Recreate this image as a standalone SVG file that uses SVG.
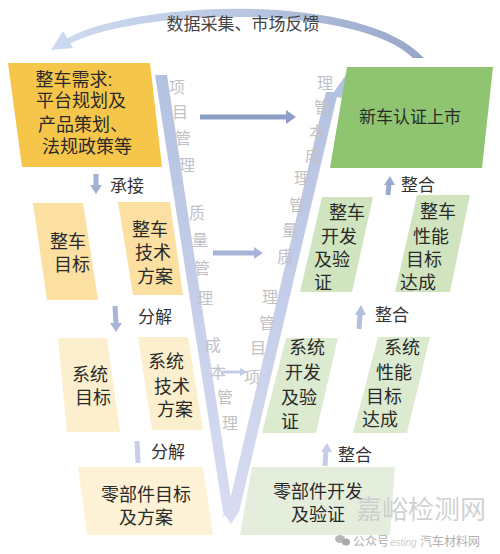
<svg xmlns="http://www.w3.org/2000/svg" width="500" height="554" viewBox="0 0 500 554">
<defs>
<linearGradient id="arcG" x1="0" y1="0" x2="1" y2="0">
<stop offset="0" stop-color="#cddbef"/>
<stop offset="0.5" stop-color="#b9c6e2"/>
<stop offset="1" stop-color="#97a5c8"/>
</linearGradient>
<linearGradient id="vG" x1="0" y1="0" x2="0" y2="1">
<stop offset="0" stop-color="#b3c1e1"/>
<stop offset="1" stop-color="#d8dcf1"/>
</linearGradient>
<style>
text{font-family:"Liberation Sans","Noto Sans CJK SC",sans-serif;}
.t{font-size:18px;fill:#2a2a2a;text-anchor:middle;}
.lb{font-size:17px;fill:#333;}
.v{font-size:16px;fill:#c2c2c6;text-anchor:middle;}
.y1{fill:#f6c64b;}
.y2{fill:#fbe0a2;}
.y3{fill:#fcefcd;}
.y4{fill:#fdf2d6;}
.g1{fill:#8fc570;}
.g2{fill:#d0e5bf;}
.g3{fill:#dcebd0;}
.g4{fill:#e5eedd;}
.wm{font-size:12px;fill:#b0b0b0;}
</style>
</defs>
<rect width="500" height="554" fill="#ffffff"/>

<g id="connectors">
<path d="M66,39 C130,1 362,-10 424,58 L413,58 C356,2 130,9 68,45 Z" fill="url(#arcG)"/>
<polygon points="51,50 63,31 73,48" fill="#cbd9ee"/>
<polygon points="155,75 167,75 233,512 223,512" fill="url(#vG)"/>
<polygon points="222,517 233,512 239,512 338,92 326,92 230,500" fill="url(#vG)"/>
<polygon points="348,72 331,96 349,99" fill="#b3c1e1"/>
<polygon points="223,512 239,512 231,524" fill="#d8dcf1"/>
<line x1="200" y1="117" x2="288" y2="117" stroke="#8e9fc7" stroke-width="5"/>
<polygon points="296,117 286,110 286,124" fill="#8e9fc7"/>
<line x1="213" y1="253" x2="255" y2="253" stroke="#a7b5d8" stroke-width="5"/>
<polygon points="263,253 254,247 254,259" fill="#a7b5d8"/>
<line x1="222" y1="372" x2="240" y2="372" stroke="#c5cde6" stroke-width="3"/>
<polygon points="247,372 240,368 240,376" fill="#c5cde6"/>
<line x1="96" y1="174" x2="96" y2="186" stroke="#a2b1d3" stroke-width="5"/>
<polygon points="96,194 90,185 102,185" fill="#a2b1d3"/>
<line x1="115" y1="306" x2="116" y2="324" stroke="#a7b5d8" stroke-width="5"/>
<polygon points="116,332 110,323 122,323" fill="#a7b5d8"/>
<line x1="137" y1="441" x2="138" y2="463" stroke="#c9cfe6" stroke-width="5"/>
<line x1="388" y1="195" x2="389" y2="184" stroke="#9aaad0" stroke-width="5"/>
<polygon points="390,176 384,185 395,185" fill="#9aaad0"/>
<line x1="359" y1="329" x2="360" y2="314" stroke="#b3bedf" stroke-width="5"/>
<polygon points="361,305 355,315 366,315" fill="#b3bedf"/>
<line x1="325" y1="466" x2="326" y2="450" stroke="#c8cde6" stroke-width="5"/>
<polygon points="327,443 321,452 332,452" fill="#c8cde6"/>
</g>

<text x="243" y="30" class="lb" text-anchor="middle" style="fill:#444">数据采集、市场反馈</text>

<g id="n-demand">
<polygon class="y1" points="8,63 150,63 162,167 22,167"/>
<text class="t"><tspan x="74" y="86">整车需求:</tspan><tspan x="81" y="107">平台规划及</tspan><tspan x="83" y="131">产品策划、</tspan><tspan x="87" y="153">法规政策等</tspan></text>
</g>

<g id="n-launch">
<polygon class="g1" points="347,67 493,67 482,168 330,168"/>
<text class="t" x="410" y="123" style="font-size:17px">新车认证上市</text>
</g>

<g id="n-vehicle-target">
<polygon class="y2" points="33,203 83,203 98,300 47,300"/>
<text class="t"><tspan x="68" y="248">整车</tspan><tspan x="72" y="271">目标</tspan></text>
</g>

<g id="n-vehicle-tech">
<polygon class="y2" points="118,202 170,202 183,295 133,295"/>
<text class="t"><tspan x="150" y="236">整车</tspan><tspan x="153" y="259">技术</tspan><tspan x="155" y="283">方案</tspan></text>
</g>

<g id="n-sys-target">
<polygon class="y3" points="58,338 107,338 120,432 67,432"/>
<text class="t"><tspan x="90" y="381">系统</tspan><tspan x="93" y="404">目标</tspan></text>
</g>

<g id="n-sys-tech">
<polygon class="y3" points="138,337 188,337 203,430 152,430"/>
<text class="t"><tspan x="166" y="368">系统</tspan><tspan x="172" y="393">技术</tspan><tspan x="175" y="416">方案</tspan></text>
</g>

<g id="n-part-target">
<polygon class="y4" points="78,467 203,467 213,535 87,535"/>
<text class="t"><tspan x="146" y="501">零部件目标</tspan><tspan x="146" y="524">及方案</tspan></text>
</g>

<g id="n-vehicle-dev">
<polygon class="g2" points="322,197 373,197 352,292 300,292"/>
<text class="t"><tspan x="347" y="219">整车</tspan><tspan x="339" y="243">开发</tspan><tspan x="332" y="266">及验</tspan><tspan x="323" y="289">证</tspan></text>
</g>

<g id="n-vehicle-perf">
<polygon class="g2" points="417,195 470,195 450,292 395,292"/>
<text class="t"><tspan x="438" y="218">整车</tspan><tspan x="431" y="243">性能</tspan><tspan x="424" y="266">目标</tspan><tspan x="418" y="289">达成</tspan></text>
</g>

<g id="n-sys-dev">
<polygon class="g3" points="286,338 338,338 316,433 262,433"/>
<text class="t"><tspan x="307" y="354">系统</tspan><tspan x="303" y="379">开发</tspan><tspan x="299" y="404">及验</tspan><tspan x="290" y="428">证</tspan></text>
</g>

<g id="n-sys-perf">
<polygon class="g3" points="378,337 430,337 407,433 353,433"/>
<text class="t"><tspan x="402" y="354">系统</tspan><tspan x="394" y="379">性能</tspan><tspan x="384" y="403">目标</tspan><tspan x="380" y="426">达成</tspan></text>
</g>

<g id="n-part-dev">
<polygon class="g4" points="252,467 395,467 390,535 240,535"/>
<text class="t"><tspan x="318" y="498">零部件开发</tspan><tspan x="318" y="521">及验证</tspan></text>
</g>

<g id="labels">
<text class="lb" x="110" y="192">承接</text>
<text class="lb" x="138" y="323">分解</text>
<text class="lb" x="151" y="458">分解</text>
<text class="lb" x="401" y="191">整合</text>
<text class="lb" x="375" y="321">整合</text>
<text class="lb" x="338" y="461">整合</text>
</g>

<g id="v-labels">
<text class="v"><tspan x="177" y="93">项</tspan><tspan x="180" y="118">目</tspan><tspan x="183" y="144">管</tspan><tspan x="187" y="171">理</tspan></text>
<text class="v"><tspan x="197" y="219">质</tspan><tspan x="200" y="246">量</tspan><tspan x="202" y="274">管</tspan><tspan x="205" y="304">理</tspan></text>
<text class="v"><tspan x="213" y="351">成</tspan><tspan x="218" y="378">本</tspan><tspan x="225" y="403">管</tspan><tspan x="230" y="429">理</tspan></text>
<text class="v"><tspan x="325" y="89">理</tspan><tspan x="322" y="113">管</tspan><tspan x="317" y="138">本</tspan><tspan x="313" y="161">成</tspan></text>
<text class="v"><tspan x="302" y="184">理</tspan><tspan x="297" y="211">管</tspan><tspan x="290" y="236">量</tspan><tspan x="285" y="263">质</tspan></text>
<text class="v"><tspan x="270" y="303">理</tspan><tspan x="267" y="329">管</tspan><tspan x="258" y="354">目</tspan><tspan x="252" y="383">项</tspan></text>
</g>

<g id="watermark">
<text x="421" y="519" text-anchor="middle" style="font-size:26px;fill:#c9c9c9;fill-opacity:0.85">嘉峪检测网</text>
<ellipse cx="340" cy="539" rx="5" ry="4" fill="#b8b8b8"/>
<ellipse cx="346" cy="542" rx="4" ry="3.5" fill="#a8a8a8"/>
<text class="wm" x="353" y="546">公众号</text>
<text x="390" y="546" style="font-size:10px;fill:#cfcfcf;font-style:italic">esting</text>
<text class="wm" x="420" y="546">汽车材料网</text>
</g>
</svg>
